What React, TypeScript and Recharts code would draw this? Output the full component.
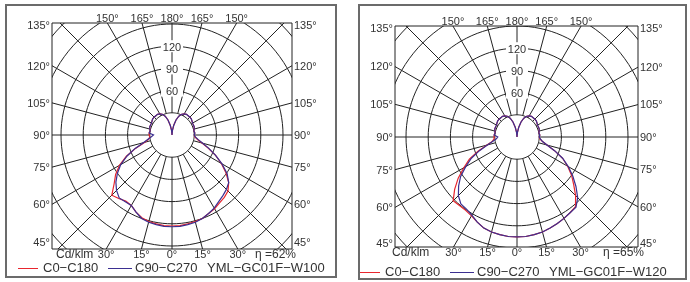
import { ComposedChart, Line, XAxis, YAxis, ReferenceLine, ReferenceDot } from 'recharts'

// gamma angles (deg from nadir), 5 deg steps
const GAMMA = [0, 5, 10, 15, 20, 25, 30, 35, 40, 45, 50, 55, 60, 65, 70, 75, 80, 85, 90,
  95, 100, 105, 110, 115, 120, 125, 130, 135, 140, 145, 150, 155, 160, 165, 170, 175, 180]

// upper (back light) lobe, 95..180, same for every plane
const LOBE = [31, 30, 31, 32, 32, 32, 33, 34, 34, 34, 34, 33, 31, 27, 21, 13, 6, 0]

// cd/klm, 0..90
const W100_C0 = [123, 123, 122, 121, 119, 115, 110, 109, 112, 115, 102, 93, 82, 68, 52, 38, 32, 30, 31]
const W100_C180 = [123, 123, 122, 121, 120, 117, 115, 112, 110, 107, 100, 89, 77, 65, 52, 42, 35, 31, 30]
const W100_C90 = [124, 124, 123, 122, 120, 115, 110, 110, 111, 106, 99, 90, 80, 67, 53, 40, 33, 28, 25]
const W100_C270 = [124, 124, 123, 122, 120, 117, 114, 110, 107, 104, 100, 91, 78, 65, 53, 43, 36, 32, 30]

const W120_C0 = [135, 135, 134, 133, 131, 127, 123, 121, 121, 122, 110, 97, 83, 71, 56, 42, 34, 31, 31]
const W120_C180 = [135, 135, 134, 133, 131, 129, 127, 125, 123, 112, 100, 90, 79, 68, 54, 42, 35, 31, 30]
const W120_C90 = [135, 135, 134, 133, 131, 127, 122, 119, 118, 112, 103, 93, 80, 68, 54, 41, 33, 28, 26]
const W120_C270 = [135, 135, 134, 133, 131, 129, 127, 125, 124, 116, 104, 92, 80, 68, 54, 42, 35, 32, 30]

const RINGS = [30, 60, 90, 120, 150, 180, 210]
const RING_LABELS = [60, 90, 120]
const SIDE_LABELS = [45, 60, 75, 90, 105, 120, 135]
const TOP_LABELS = [150, 165, 180, 165, 150]
const BOTTOM_LABELS = [30, 15, 0, 15, 30]

const RED = '#e8262e'
const BLUE = '#3b2f91'
const GRID = '#222'
const TXT = '#333'
const PX_PER_CD = 0.74
const rad = (d: number) => (d * Math.PI) / 180

function curve(left: number[], right: number[]) {
  const l = [...left, ...LOBE]
  const r = [...right, ...LOBE]
  const pts: { x: number; y: number }[] = []
  for (let i = GAMMA.length - 1; i >= 0; i--) {
    pts.push({ x: -l[i] * Math.sin(rad(GAMMA[i])), y: -l[i] * Math.cos(rad(GAMMA[i])) })
  }
  for (let i = 0; i < GAMMA.length; i++) {
    pts.push({ x: r[i] * Math.sin(rad(GAMMA[i])), y: -r[i] * Math.cos(rad(GAMMA[i])) })
  }
  return pts
}

function ring(r: number) {
  const pts: { x: number; y: number }[] = []
  for (let a = 0; a <= 360; a += 3) pts.push({ x: r * Math.sin(rad(a)), y: -r * Math.cos(rad(a)) })
  return pts
}

const RADIALS = Array.from({ length: 24 }, (_, i) => i * 15)

type Box = { chartLeft: number; L: number; R: number; T: number; B: number; cx: number; cy: number; lowPad: number }

function Polar({ box, red, blue }: { box: Box; red: [number[], number[]]; blue: [number[], number[]] }) {
  const xd: [number, number] = [-(box.cx - box.L) / PX_PER_CD, (box.R - box.cx) / PX_PER_CD]
  const yd: [number, number] = [-(box.B - box.cy) / PX_PER_CD, (box.cy - box.T) / PX_PER_CD]
  // corner labels sit a little inside the frame
  const clampY = (v: number) =>
    Math.max(yd[0] + box.lowPad / PX_PER_CD, Math.min(yd[1] - 2 / PX_PER_CD, v))
  const cot = (g: number) => Math.cos(rad(g)) / Math.sin(rad(g))
  const leftTicks = SIDE_LABELS.map((g) => clampY(xd[0] * cot(g)))
  const rightTicks = SIDE_LABELS.map((g) => clampY(-xd[1] * cot(g)))
  const topTicks = TOP_LABELS.map((g, i) => (i < 2 ? 1 : -1) * yd[1] * Math.tan(rad(g)))
  const bottomTicks = BOTTOM_LABELS.map((g, i) => (i < 2 ? 1 : -1) * yd[0] * Math.tan(rad(g)))
  const tick = { fontSize: 11, fill: TXT }
  const axisLine = { stroke: GRID, strokeWidth: 1 }

  return (
    <div style={{ position: 'absolute', left: box.chartLeft, top: 0 }}>
      <ComposedChart width={345} height={282} margin={{ top: 0, right: 0, bottom: 0, left: 0 }}>
        <XAxis dataKey="x" type="number" domain={xd} allowDataOverflow ticks={bottomTicks} interval={0}
          tickFormatter={(_v: number, i: number) => `${BOTTOM_LABELS[i]}°`} tickLine={false} tickSize={0}
          tickMargin={1} axisLine={axisLine} tick={tick} height={282 - box.B} />
        <XAxis xAxisId="top" orientation="top" dataKey="x" type="number" domain={xd} allowDataOverflow
          ticks={topTicks} interval={0} tickFormatter={(_v: number, i: number) => `${TOP_LABELS[i]}°`}
          tickLine={false} tickSize={0} tickMargin={1} axisLine={axisLine} tick={tick} height={box.T} />
        <YAxis type="number" domain={yd} allowDataOverflow ticks={leftTicks} interval={0}
          tickFormatter={(_v: number, i: number) => `${SIDE_LABELS[i]}°`} tickLine={false} tickSize={0}
          tickMargin={2} axisLine={axisLine} tick={tick} width={box.L - box.chartLeft} />
        <YAxis yAxisId="right" orientation="right" type="number" domain={yd} allowDataOverflow
          ticks={rightTicks} interval={0} tickFormatter={(_v: number, i: number) => `${SIDE_LABELS[i]}°`}
          tickLine={false} tickSize={0} tickMargin={2} axisLine={axisLine} tick={tick}
          width={box.chartLeft + 345 - box.R} />

        {RINGS.map((r) => (
          <Line key={'r' + r} data={ring(r)} dataKey="y" stroke={GRID} strokeWidth={1} dot={false}
            isAnimationActive={false} type="linear" />
        ))}
        {RADIALS.map((a) => (
          <ReferenceLine key={'a' + a} ifOverflow="hidden" stroke={GRID} strokeWidth={1}
            segment={[
              { x: 30 * Math.sin(rad(a)), y: -30 * Math.cos(rad(a)) },
              { x: 300 * Math.sin(rad(a)), y: -300 * Math.cos(rad(a)) },
            ]} />
        ))}
        {RING_LABELS.map((v) => (
          <ReferenceDot key={'l' + v} x={0} y={v} r={0} zIndex={1500}
            shape={(p: any) => (
              <g>
                <rect x={p.cx - 11} y={p.cy - 6} width={22} height={12} fill="#fff" />
                <text x={p.cx} y={p.cy + 1} dy="0.35em" textAnchor="middle" fontSize={11} fill={TXT}>{v}</text>
              </g>
            )} />
        ))}

        <Line data={curve(red[0], red[1])} dataKey="y" stroke={RED} strokeWidth={1.2} dot={false}
          isAnimationActive={false} type="linear" />
        <Line data={curve(blue[0], blue[1])} dataKey="y" stroke={BLUE} strokeWidth={1.2} dot={false}
          isAnimationActive={false} type="linear" />
      </ComposedChart>
    </div>
  )
}

function Txt({ x, y, size = 12, children }: { x: number; y: number; size?: number; children: any }) {
  return (
    <span style={{ position: 'absolute', left: x, top: y - size * 0.6, fontSize: size, lineHeight: 1.2,
      color: TXT, whiteSpace: 'nowrap' }}>{children}</span>
  )
}

function Legend({ x, y, model }: { x: number; y: number; model: string }) {
  return (
    <>
      <div style={{ position: 'absolute', left: x, top: y - 0.5, width: 20, height: 1.3, background: RED }} />
      <Txt x={x + 25} y={y} size={13}>C0−C180</Txt>
      <div style={{ position: 'absolute', left: x + 90, top: y - 0.5, width: 24, height: 1.3, background: BLUE }} />
      <Txt x={x + 117} y={y} size={13}>C90−C270</Txt>
      <Txt x={x + 189} y={y} size={13}>{model}</Txt>
    </>
  )
}

export default function App() {
  return (
    <div style={{ position: 'absolute', left: 0, top: 0, width: 690, height: 282, background: '#fff',
      fontFamily: '"Liberation Sans", Arial, sans-serif', overflow: 'hidden', willChange: 'transform' }}>
      <div style={{ position: 'absolute', left: 5, top: 4, width: 328, height: 270, border: '2px solid #6b6b6b' }} />
      <div style={{ position: 'absolute', left: 358, top: 4, width: 325, height: 272, border: '2px solid #6b6b6b' }} />

      <Polar box={{ chartLeft: 0, L: 52, R: 292, T: 23, B: 249, cx: 172, cy: 135, lowPad: 7 }}
        red={[W100_C0, W100_C180]} blue={[W100_C90, W100_C270]} />
      <Polar box={{ chartLeft: 345, L: 395, R: 638, T: 26, B: 247, cx: 517, cy: 137, lowPad: 4 }}
        red={[W120_C0, W120_C180]} blue={[W120_C90, W120_C270]} />

      <Txt x={56} y={254}>Cd/klm</Txt>
      <Txt x={255} y={254}>η =62%</Txt>
      <Legend x={18} y={268} model="YML−GC01F−W100" />

      <Txt x={392} y={252}>Cd/klm</Txt>
      <Txt x={603} y={252}>η =65%</Txt>
      <Legend x={360} y={272} model="YML−GC01F−W120" />
    </div>
  )
}
